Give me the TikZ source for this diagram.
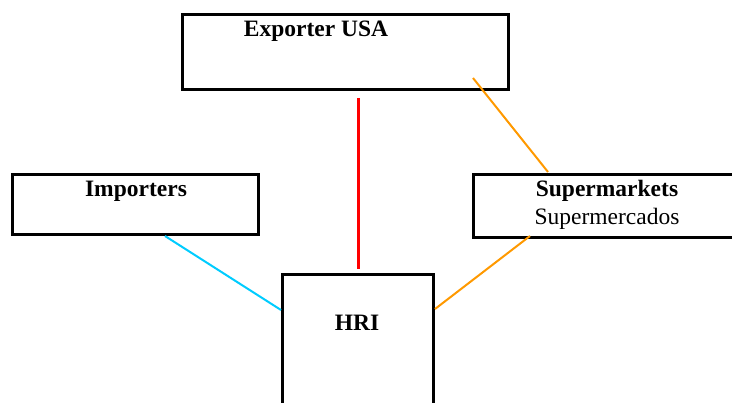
\documentclass[tikz,border=0pt]{standalone}
\usepackage{fontspec}
\setmainfont{Liberation Serif}
\definecolor{lineorange}{RGB}{255,153,0}
\definecolor{linecyan}{RGB}{0,204,255}
\begin{document}
\begin{tikzpicture}[x=1pt,y=-1pt,
  box/.style={draw=black,line width=3pt,rectangle,inner sep=0pt},
  lbl/.style={font=\fontsize{23.5}{28}\selectfont\bfseries,inner sep=0pt,anchor=base},
  lblr/.style={font=\fontsize{23.5}{28}\selectfont,inner sep=0pt,anchor=base},
  conn/.style={line width=2pt}]
\useasboundingbox (0,0) rectangle (732,403);
\clip (0,0) rectangle (732,403);
% boxes
\node[box,minimum width=326pt,minimum height=75pt] (exp) at (345,52.5) {};
\node[box,minimum width=246pt,minimum height=60pt] (imp) at (135,205) {};
\node[box,minimum width=272pt,minimum height=63pt] (sup) at (609,206.5) {};
\node[box,minimum width=151pt,minimum height=145pt] (hri) at (357.5,347.5) {};
% labels
\node[lbl] (expt) at (316,37) {Exporter USA};
\node[lbl] (impt) at (136,197) {Importers};
\node[lbl] (supt) at (607,197) {Supermarkets};
\node[lblr] (supt2) at (607,224.5) {Supermercados};
\node[lbl] (hrit) at (357,331) {HRI};
% connector ends
\coordinate (r1) at (358,98);
\coordinate (r2) at (358,269);
\coordinate (o1) at (473,78);
\coordinate (o2) at (548,172);
\coordinate (c1) at (165,236);
\coordinate (c2) at (281,310);
\coordinate (p1) at (530,236);
\coordinate (p2) at (435,309);
\draw[conn,red,line width=3pt] (r1) -- (r2);
\draw[conn,lineorange] (o1) -- (o2);
\draw[conn,linecyan] (c1) -- (c2);
\draw[conn,lineorange] (p1) -- (p2);
\end{tikzpicture}
\end{document}
